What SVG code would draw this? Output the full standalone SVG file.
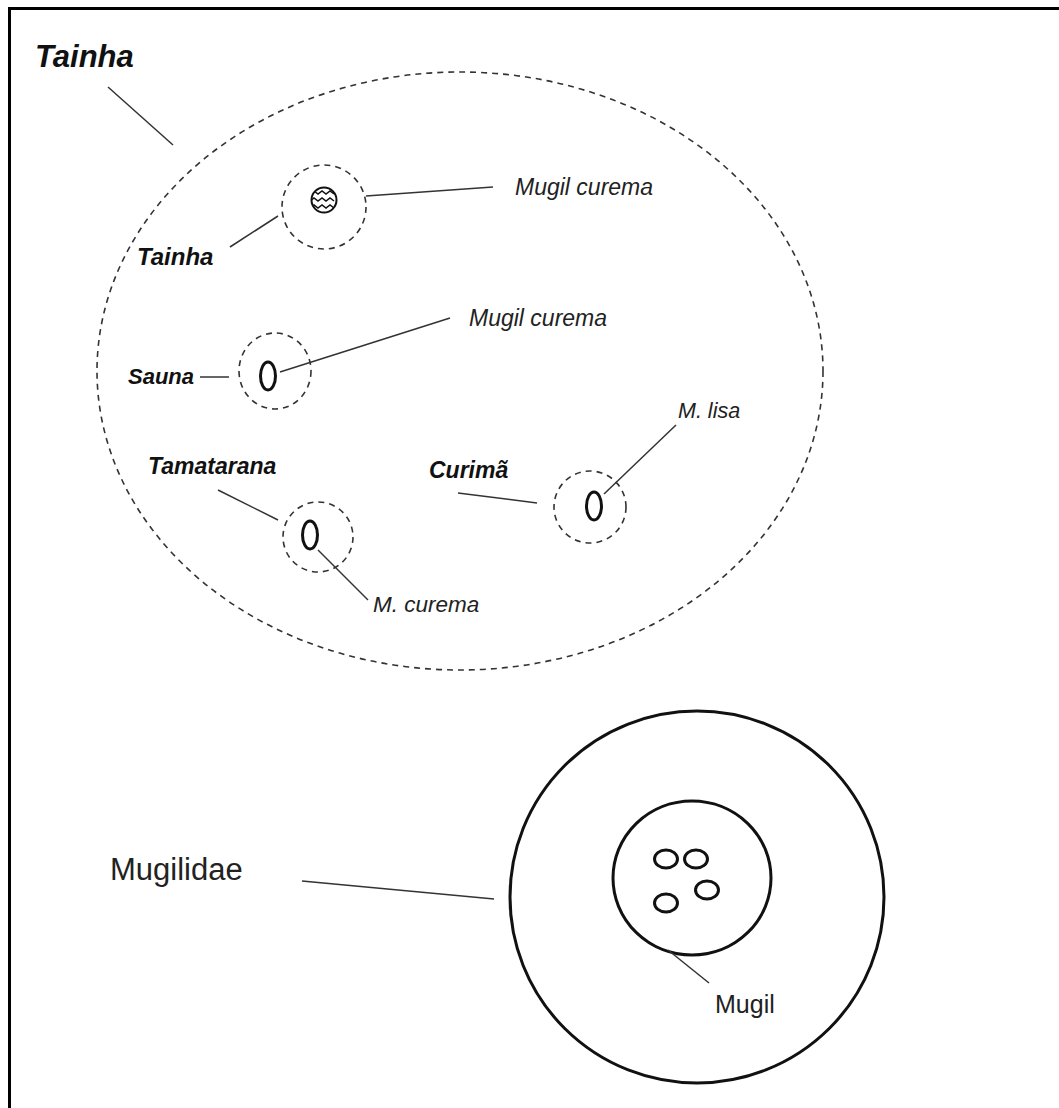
<svg xmlns="http://www.w3.org/2000/svg" width="1059" height="1108" viewBox="0 0 1059 1108">
<style>
.bi{font-family:"Liberation Sans",Arial,sans-serif;font-weight:bold;font-style:italic;fill:#111}
.it{font-family:"Liberation Sans",Arial,sans-serif;font-style:italic;fill:#222}
.rg{font-family:"Liberation Sans",Arial,sans-serif;fill:#222}
.ld{stroke:#333;stroke-width:1.5;fill:none}
.dash{fill:none;stroke:#333;stroke-width:1.6;stroke-dasharray:6 5}
.sp{fill:none;stroke:#111;stroke-width:3}
.solid{fill:none;stroke:#111;stroke-width:3}
</style>
<defs>
<clipPath id="wc"><circle cx="324" cy="200" r="12"/></clipPath>
</defs>
<rect width="1059" height="1108" fill="#fff"/>
<g id="frame">
<line x1="8" y1="8.5" x2="1059" y2="8.5" stroke="#000" stroke-width="3"/>
<line x1="9.5" y1="7" x2="9.5" y2="1108" stroke="#000" stroke-width="3"/>
</g>
<g id="tainha-group">
<ellipse cx="460" cy="371" rx="363" ry="299" class="dash"/>
<text x="35" y="67" class="bi" font-size="31">Tainha</text>
</g>
<g id="tainha">
<circle cx="324" cy="207" r="42" class="dash"/>
<g clip-path="url(#wc)">
<path d="M310 194 l4 -3 l4 3 l4 -3 l4 3 l4 -3 l4 3 M310 201 l4 -3 l4 3 l4 -3 l4 3 l4 -3 l4 3 M310 208 l4 -3 l4 3 l4 -3 l4 3 l4 -3 l4 3" fill="none" stroke="#111" stroke-width="1.5"/>
</g>
<circle cx="324" cy="200" r="12.5" fill="none" stroke="#111" stroke-width="2"/>
<text x="137" y="265" class="bi" font-size="24">Tainha</text>
<text x="515" y="195" class="it" font-size="23">Mugil curema</text>
</g>
<g id="sauna">
<ellipse cx="275" cy="371" rx="36" ry="38" class="dash"/>
<ellipse cx="268" cy="376" rx="7.5" ry="14" class="sp"/>
<text x="128" y="384" class="bi" font-size="22">Sauna</text>
<text x="469" y="326" class="it" font-size="23">Mugil curema</text>
</g>
<g id="curima">
<circle cx="590" cy="507" r="36" class="dash"/>
<ellipse cx="594" cy="506" rx="7.5" ry="14" class="sp"/>
<text x="429" y="478" class="bi" font-size="23">Curimã</text>
<text x="678" y="418" class="it" font-size="21.5">M. lisa</text>
</g>
<g id="tamatarana">
<circle cx="318" cy="537" r="35" class="dash"/>
<ellipse cx="310" cy="535" rx="7.5" ry="14" class="sp"/>
<text x="148" y="474" class="bi" font-size="23">Tamatarana</text>
<text x="373" y="612" class="it" font-size="22.5">M. curema</text>
</g>
<g id="mugilidae">
<ellipse cx="697" cy="897" rx="187" ry="186" class="solid"/>
<text x="110" y="880" class="rg" font-size="31">Mugilidae</text>
</g>
<g id="mugil">
<ellipse cx="692" cy="878" rx="79" ry="77" class="solid"/>
<ellipse cx="666" cy="859" rx="11.5" ry="9" class="sp"/>
<ellipse cx="696" cy="859" rx="11.5" ry="9" class="sp"/>
<ellipse cx="707" cy="890" rx="11.5" ry="9" class="sp"/>
<ellipse cx="666" cy="903" rx="11.5" ry="9" class="sp"/>
<text x="715" y="1013" class="rg" font-size="25">Mugil</text>
</g>
<g id="connectors" class="ld">
<line x1="108" y1="87" x2="173" y2="145"/>
<line x1="230" y1="247" x2="278" y2="216"/>
<line x1="366" y1="196" x2="493" y2="187"/>
<line x1="200" y1="377" x2="229" y2="377"/>
<line x1="280" y1="372" x2="450" y2="318"/>
<line x1="676" y1="425" x2="604" y2="494"/>
<line x1="458" y1="493" x2="537" y2="503"/>
<line x1="218" y1="490" x2="278" y2="520"/>
<line x1="318" y1="550" x2="368" y2="600"/>
<line x1="302" y1="881" x2="494" y2="899"/>
<line x1="668" y1="950" x2="709" y2="983"/>
</g>
</svg>
